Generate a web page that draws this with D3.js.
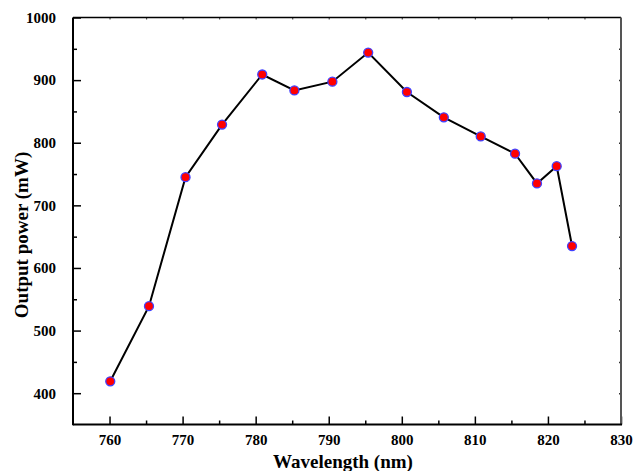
<!DOCTYPE html>
<html><head><meta charset="utf-8">
<script src="https://cdn.jsdelivr.net/npm/d3@7"></script>
<style>
body{margin:0;background:#fff;}
text{font-family:"Liberation Serif","Times New Roman",serif;font-weight:bold;}
</style></head>
<body><svg id="c" width="642" height="471"></svg>
<script>
const wavelength = [760.1, 765.4, 770.4, 775.4, 780.9, 785.3, 790.5, 795.4, 800.7, 805.75, 810.8, 815.5, 818.5, 821.2, 823.3];
const power = [419, 539, 745, 829, 909, 883.5, 897.5, 944, 881, 840.5, 810, 782.5, 735, 762.5, 635];
const xTicks = [760, 770, 780, 790, 800, 810, 820, 830];
const yTicks = [400, 500, 600, 700, 800, 900, 1000];
const xTitle = "Wavelength (nm)";
const yTitle = "Output power (mW)";

const svg = d3.select("#c");
const L = 73, R = 621, T = 17.5, B = 424.5;
const x = d3.scaleLinear().domain([755, 830]).range([L, R]);
const y = d3.scaleLinear().domain([350, 1000]).range([B, T]);

const xMinor = d3.range(765, 830, 10);
const yMinor = d3.range(450, 1000, 100);

// bottom axis
const gx = svg.append("g").attr("transform", `translate(0,${B})`)
  .call(d3.axisBottom(x).tickValues(xTicks).tickSize(-8).tickPadding(10).tickFormat(d3.format("d")));
gx.select(".domain").remove();
gx.selectAll("text").attr("font-size", 15).attr("fill", "#000");
gx.selectAll("line").attr("stroke", "#000").attr("stroke-width", 1.5);
svg.append("g").attr("transform", `translate(0,${B})`)
  .call(d3.axisBottom(x).tickValues(xMinor).tickSize(-4).tickFormat(""))
  .call(g => g.select(".domain").remove())
  .selectAll("line").attr("stroke", "#000").attr("stroke-width", 1.5);

// left axis
const gy = svg.append("g").attr("transform", `translate(${L},0)`)
  .call(d3.axisLeft(y).tickValues(yTicks).tickSize(-8).tickPadding(17).tickFormat(d3.format("d")));
gy.select(".domain").remove();
gy.selectAll("text").attr("font-size", 15).attr("fill", "#000");
gy.selectAll("line").attr("stroke", "#000").attr("stroke-width", 1.5);
svg.append("g").attr("transform", `translate(${L},0)`)
  .call(d3.axisLeft(y).tickValues(yMinor).tickSize(-4).tickFormat(""))
  .call(g => g.select(".domain").remove())
  .selectAll("line").attr("stroke", "#000").attr("stroke-width", 1.5);

// top axis small ticks
svg.append("g").attr("transform", `translate(0,${T})`)
  .call(d3.axisTop(x).tickValues(d3.range(760, 830, 5)).tickSize(-2).tickFormat(""))
  .call(g => g.select(".domain").remove())
  .selectAll("line").attr("stroke", "#555").attr("stroke-width", 1.2);
// right axis small ticks
svg.append("g").attr("transform", `translate(${R},0)`)
  .call(d3.axisRight(y).tickValues(d3.range(400, 1000, 50)).tickSize(-2).tickFormat(""))
  .call(g => g.select(".domain").remove())
  .selectAll("line").attr("stroke", "#333").attr("stroke-width", 1.5);

// frame
svg.append("line").attr("x1", L).attr("x2", R).attr("y1", T).attr("y2", T).attr("stroke", "#000").attr("stroke-width", 1.5);
svg.append("line").attr("x1", R).attr("x2", R).attr("y1", T).attr("y2", B).attr("stroke", "#555").attr("stroke-width", 2);
svg.append("line").attr("x1", L).attr("x2", L).attr("y1", T).attr("y2", B + 0.75).attr("stroke", "#000").attr("stroke-width", 2);
svg.append("line").attr("x1", L).attr("x2", R + 1).attr("y1", B).attr("y2", B).attr("stroke", "#000").attr("stroke-width", 2);

const data = wavelength.map((w, i) => ({w, p: power[i]}));
svg.append("path").datum(data)
  .attr("d", d3.line().x(d => x(d.w)).y(d => y(d.p)))
  .attr("fill", "none").attr("stroke", "#000").attr("stroke-width", 2);
svg.append("g").selectAll("circle").data(data).join("circle")
  .attr("cx", d => x(d.w)).attr("cy", d => y(d.p)).attr("r", 4.5)
  .attr("fill", "#ff0000").attr("stroke", "#4040ff").attr("stroke-width", 1.3);

svg.append("text").attr("x", 343).attr("y", 468).attr("text-anchor", "middle")
  .attr("font-size", 19).attr("fill", "#000").text(xTitle);
svg.append("text").attr("transform", "translate(28,235) rotate(-90)").attr("text-anchor", "middle")
  .attr("font-size", 19).attr("fill", "#000").text(yTitle);
</script></body></html>
